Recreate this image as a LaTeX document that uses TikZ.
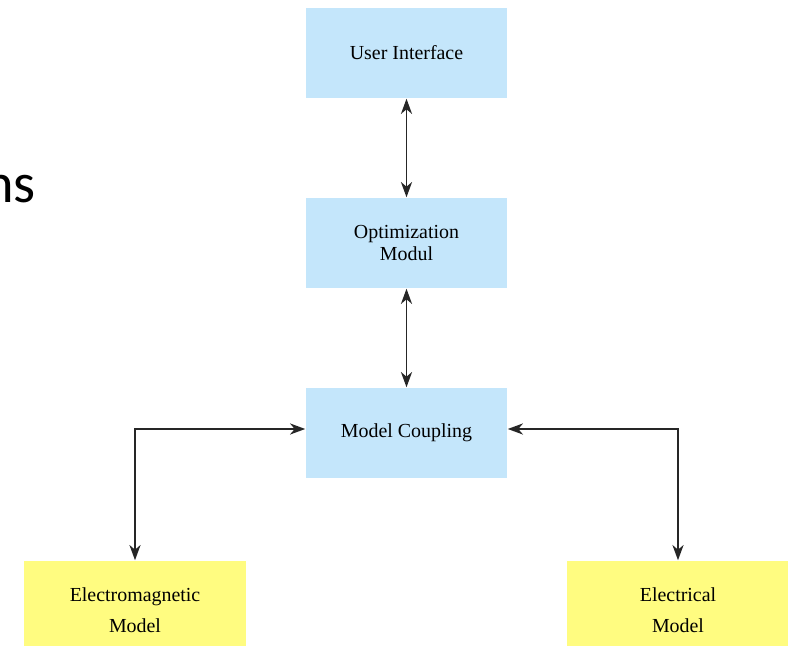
\documentclass[tikz,border=0pt]{standalone}
\usepackage{fontspec}
\setmainfont{Liberation Serif}
\newfontfamily\slidefont{Carlito}
\usepackage{tikz}
\usetikzlibrary{arrows.meta,positioning,calc}
\definecolor{modblue}{RGB}{196,230,251}
\definecolor{modyellow}{RGB}{255,252,128}
\tikzstyle{edge}  =[>={Stealth[length=13pt,width=9.5pt,inset=4pt]}, line width=1.3pt,
                    draw=black!85]
\tikzstyle{module}=[rectangle, fill=modblue, draw=none,
                    minimum width=6.03cm, minimum height=2.7cm,
                    inner sep=0pt, align=center, font=\fontsize{17}{18}\selectfont]
\tikzstyle{model} =[rectangle, fill=modyellow, draw=none,
                    minimum width=6.66cm, minimum height=2.94cm,
                    inner sep=0pt, align=center, font=\fontsize{17}{26.5}\selectfont]
\tikzstyle{label} =[inner sep=0pt, fill=none, draw=none]

\begin{document}
\begin{tikzpicture}[node distance=5.7cm, on grid, edge]
    \useasboundingbox (0,0) rectangle (23.64,19.38);
    \clip (0,0) rectangle (23.64,19.38);

    \begin{scope}
        \node (ui) [module] at (12.195, 17.79) {User Interface};
        \node (opt) [module, below= of ui] {Optimization\\Modul};
        \node (mc) [module, below= of opt] {Model Coupling};
        \node (em) [model] at (4.05, 1.08) {Electromagnetic\\Model};
        \node (el) [model] at (20.34, 1.08) {Electrical\\Model};
        \node (ns) [label, anchor=base east] at (1.1, 13.29)
              {\slidefont\fontsize{48}{50}\selectfont ns};
        \coordinate (lc) at ($(mc.west)+(0,0.12)$);
        \coordinate (rc) at ($(mc.east)+(0,0.12)$);
        \draw [<->] (ui) to (opt);
        \draw [<->] (opt) to (mc);
        \draw [<->] (lc) -| (em.north);
        \draw [<->] (rc) -| (el.north);
    \end{scope}
\end{tikzpicture}
\end{document}
